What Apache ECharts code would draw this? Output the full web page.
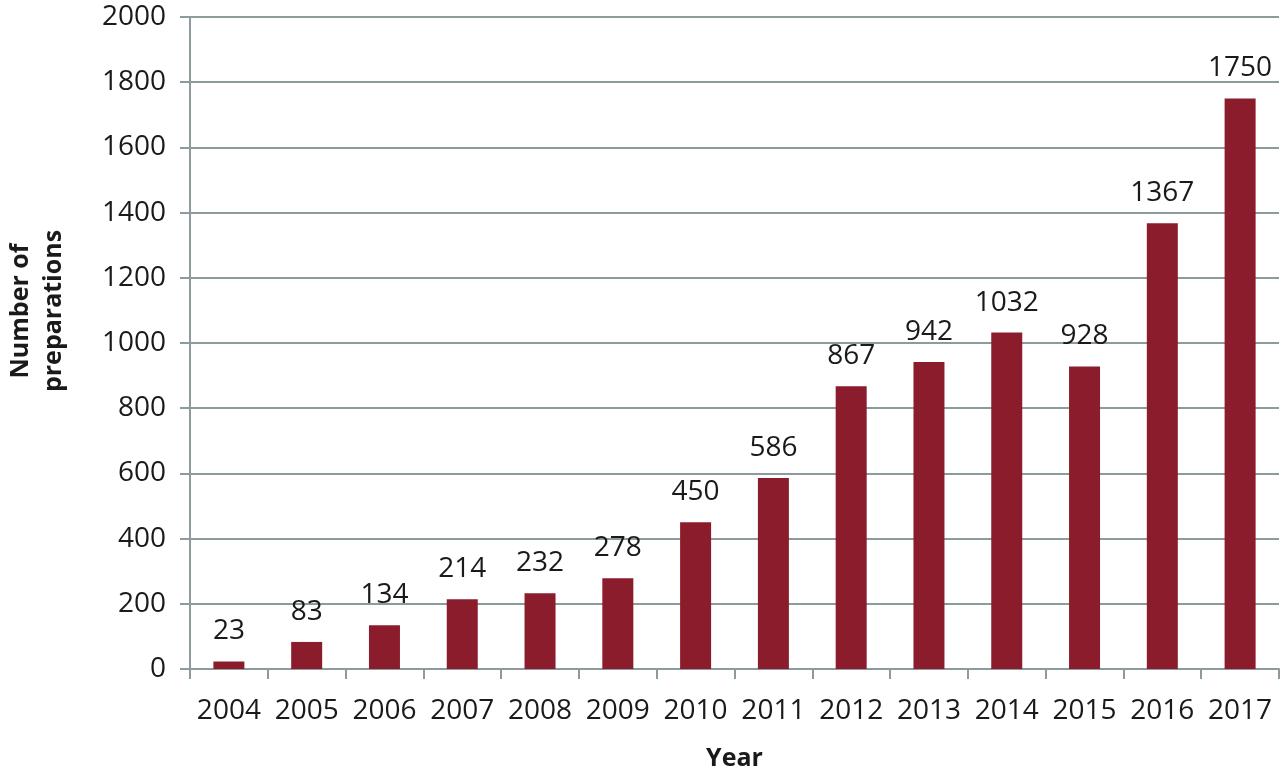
<!DOCTYPE html>
<html><head><meta charset="utf-8">
<script src="https://cdn.jsdelivr.net/npm/echarts@6/dist/echarts.min.js"></script>
<style>html,body{margin:0;padding:0;background:#fff}#c{width:1280px;height:771px}</style>
</head><body><div id="c"></div>
<script>
const years = ['2004','2005','2006','2007','2008','2009','2010','2011','2012','2013','2014','2015','2016','2017'];
const preparations = [23,83,134,214,232,278,450,586,867,942,1032,928,1367,1750];
const yTicks = {min:0, max:2000, interval:200};
const FONT = 'Open Sans';
const chart = echarts.init(document.getElementById('c'));
chart.setOption({
  animation:false,
  backgroundColor:'#fff',
  grid:{left:190,right:1,top:17,bottom:102,containLabel:false,outerBoundsMode:'none'},
  xAxis:{
    type:'category', data:years,
    name:'Year', nameLocation:'middle', nameGap:77,
    nameTextStyle:{fontFamily:FONT,fontSize:25,fontWeight:'bold',color:'#1a1a1a'},
    axisLine:{lineStyle:{color:'#8c9c9c',width:2}},
    axisTick:{show:true,length:10,alignWithLabel:false,lineStyle:{color:'#8c9c9c',width:2}},
    axisLabel:{interval:0,fontFamily:FONT,fontSize:28,color:'#1a1a1a',margin:28}
  },
  yAxis:{
    type:'value', min:yTicks.min, max:yTicks.max, interval:yTicks.interval,
    name:'Number of\npreparations', nameLocation:'middle', nameRotate:90, nameGap:120,
    nameTextStyle:{fontFamily:FONT,fontSize:25,fontWeight:'bold',color:'#1a1a1a',lineHeight:33,padding:[0,0,0,64]},
    axisLine:{show:true,lineStyle:{color:'#8c9c9c',width:2}},
    axisTick:{show:true,length:10,lineStyle:{color:'#8c9c9c',width:2}},
    splitLine:{lineStyle:{color:'#8c9c9c',width:2}},
    axisLabel:{fontFamily:FONT,fontSize:28,color:'#1a1a1a',margin:24,formatter:v=>String(v)}
  },
  series:[{
    type:'bar', data:preparations, barWidth:31,
    itemStyle:{color:'#8b1c2c'},
    label:{show:true,position:'top',distance:16,fontFamily:FONT,fontSize:28,color:'#1a1a1a'}
  }]
});
</script></body></html>
